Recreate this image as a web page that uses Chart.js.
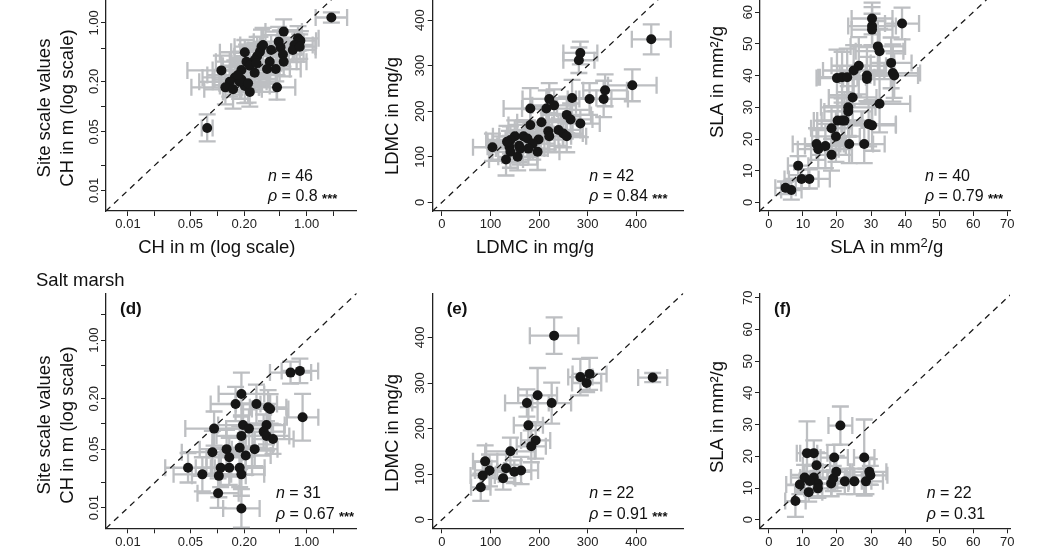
<!DOCTYPE html>
<html><head><meta charset="utf-8">
<script src="https://cdn.jsdelivr.net/npm/chart.js@4.4.0/dist/chart.umd.min.js"></script>
<style>
html,body{margin:0;padding:0;background:#fff;}
body{width:1046px;height:549px;overflow:hidden;position:relative;}
canvas{position:absolute;left:0;top:-40px;}
</style></head><body>
<script>
// ---------- DATA ----------
// Panel (a) CH, dry site (log scale)  x = site-scale value, y = plot value; errors are multiplicative factors
const A_X  = [1.89,0.553,0.80,0.85,0.73,0.70,0.486,0.51,0.312,0.40,0.203,0.30,0.279,0.262,0.543,0.386,0.553,0.212,0.231,0.111,0.186,0.262,0.36,0.451,0.157,0.186,0.138,0.123,0.15,0.203,0.231,0.466,0.178,0.221,0.325,0.077,0.17,0.274,0.836];
const A_Y  = [1.16,0.787,0.655,0.614,0.545,0.475,0.597,0.51,0.52,0.475,0.446,0.453,0.40,0.36,0.42,0.344,0.344,0.344,0.308,0.271,0.274,0.254,0.281,0.281,0.223,0.211,0.198,0.17,0.161,0.176,0.15,0.17,0.198,0.19,0.545,0.0557,0.238,0.329,0.52];
const A_XF = [1.5,1.6,1.7,1.5,1.6,1.8,1.9,1.7,2.0,1.8,1.9,2.1,1.8,1.9,1.7,2.0,1.8,2.2,2.0,2.4,2.1,1.9,1.8,1.9,2.3,2.0,2.2,2.4,2.1,1.9,2.0,1.6,2.0,2.1,1.8,1.15,2.2,1.9,1.5];
const A_YF = [1.15,1.4,1.4,1.3,1.5,1.4,1.5,1.6,1.6,1.5,1.4,1.5,1.7,1.6,1.4,1.6,1.5,1.6,1.7,1.5,1.6,1.6,1.5,1.4,1.6,1.7,1.5,1.6,1.7,1.6,1.5,1.4,1.6,1.7,1.6,1.45,1.6,1.5,1.4];

// Panel (b) LDMC (mg/g)
const B_X  = [431,285,282,392,336,333,304,268,221,231,215,182,257,265,285,205,182,219,221,240,250,257,168,176,199,187,178,197,150,141,139,159,141,156,132,104,134,161];
const B_Y  = [358,328,312,257,246,227,227,229,227,213,206,206,192,182,173,176,170,156,145,159,151,145,145,140,138,129,118,111,145,137,122,124,111,100,94,121,133,118];
const B_XE = [40,35,32,50,45,50,45,50,55,45,50,55,50,45,40,50,45,50,45,45,40,40,50,45,50,45,40,45,45,50,45,45,40,40,35,40,40,50];
const B_YE = [33,25,28,35,35,40,35,40,35,35,40,45,40,35,30,35,35,40,35,35,30,35,35,40,35,35,35,40,35,30,35,35,35,30,35,30,35,35];

// Panel (c) SLA (mm2/g)
const C_X  = [30.3,30.3,30.3,39.1,32,32.5,35.9,36.4,36.8,26.4,24.9,28.8,28.8,20,21.5,23,24.6,23.3,23.3,32.5,20.2,21.5,22.2,29.3,30.3,18.4,19.7,14,14.5,16.6,18.4,23.6,28,8.6,9.6,11.9,4.9,6.6];
const C_Y  = [58,55.6,54.5,56.4,49.2,47.7,44,40.8,40,43.1,41.6,40,38.9,39.2,39.5,39.5,33.1,30,28.7,31.1,25.8,25.8,25.8,24.7,24.3,23.4,20.8,18.4,16.8,17.8,15,18.4,18.4,11.6,7.4,7.4,4.6,3.9];
const C_XE = [6,7,6,5,8,7,6,8,7,8,9,8,7,6,7,8,7,8,7,9,7,6,8,8,7,6,7,7,6,6,6,7,6,3,5,6,3,3];
const C_YE = [5,6,5,5,8,7,8,9,7,9,8,9,7,9,8,9,8,9,8,9,8,7,9,7,8,7,8,5,6,7,5,6,6,3,3,3,2,3];

// Panel (d) CH, salt marsh (log scale)
const D_X  = [0.66,0.84,0.90,0.186,0.16,0.274,0.37,0.39,0.092,0.194,0.226,0.355,0.33,0.355,0.42,0.186,0.262,0.178,0.208,0.127,0.136,0.088,0.047,0.068,0.104,0.109,0.136,0.178,0.186,0.102,0.186];
const D_Y  = [0.41,0.43,0.12,0.228,0.173,0.173,0.158,0.151,0.088,0.097,0.088,0.097,0.081,0.072,0.066,0.072,0.05,0.052,0.042,0.05,0.040,0.046,0.030,0.025,0.024,0.030,0.030,0.030,0.025,0.0149,0.0098];
const D_XF = [1.7,1.6,1.5,1.8,1.9,1.7,1.6,1.6,2.1,1.9,1.8,1.6,1.7,1.8,1.7,1.9,1.8,2.0,1.9,2.0,1.8,2.2,1.8,2.1,2.0,1.9,1.8,1.9,1.8,1.7,1.6];
const D_YF = [1.35,1.4,1.9,1.8,1.6,1.7,1.6,1.5,1.6,1.8,1.7,1.7,1.6,1.5,1.5,1.7,1.6,1.8,1.7,1.7,1.7,1.8,1.5,1.6,1.8,1.7,1.6,1.7,1.8,1.5,1.7];

// Panel (e) LDMC, salt marsh
const E_X  = [231,434,285,304,298,197,175,226,178,193,184,141,89,98,84,132,149,163,126,80];
const E_Y  = [404,312,313,320,300,273,256,256,207,174,161,150,128,108,97,113,105,108,91,71];
const E_XE = [50,30,25,35,30,40,45,40,30,30,30,50,25,30,25,30,35,35,25,20];
const E_YE = [40,10,40,35,20,60,30,45,40,40,35,30,35,35,30,30,25,30,25,30];

// Panel (f) SLA, salt marsh
const F_X  = [21,28,19.2,11.2,13.2,14,7.8,9.1,10.5,13.2,11.7,14.4,14.4,12,18.3,18.9,19.8,22.3,25.1,28.5,29.5,29.8];
const F_Y  = [29.7,19.6,19.6,21,21,17.2,5.9,11.1,13.3,13.3,8.7,11.4,9.9,12.2,11.4,13,15.1,12.1,12.1,12.1,15.1,14];
const F_XE = [3.5,3,4,3,4,4,3,4,4,4,4,5,4,3,5,4,4,5,5,5,5,5];
const F_YE = [6,12,4,10,4,4,5,3,4,4,3,4,3,3,4,4,5,4,4,4,4,3];

// Tick values and labels
const LOG_TICKS   = [0.01,0.02,0.05,0.1,0.2,0.5,1,2];
const LOG_LABELS  = ['0.01','','0.05','','0.20','','1.00',''];
const LDMC_TICKS  = [0,100,200,300,400];
const LDMC_LABELS = ['0','100','200','300','400'];
const SLA_TICKS   = [0,10,20,30,40,50,60,70];
const SLA_LABELS  = ['0','10','20','30','40','50','60','70'];

const N_VALUES   = [46,42,40,31,22,22];
const RHO_VALUES = ['0.8','0.84','0.79','0.67','0.91','0.31'];
const RHO_STARS  = [true,true,true,true,true,false];
const PANEL_TAGS = ['(a)','(b)','(c)','(d)','(e)','(f)'];

// ---------- LAYOUT / STYLE ----------
const OFF = 40;                       // canvas is shifted up by OFF px
const CANVAS_H = 549 + OFF + 60;
const XAXIS_H = 30;
const ROW_TOP = [-24, 293.3], ROW_BOT = [211, 528.3];
const COL_L = [106, 432.7, 760], COL_R = [356.7, 683.3, 1010];
const FONT = '"Liberation Sans", Arial, Helvetica, sans-serif';
const INK = '#111';
const ERR_COL = '#bdbfc2';

const colSpec = [
  {type:'logarithmic', xmin:0.005675, xmax:3.63, ymin:0.005675, ymax:3.63, ticks:LOG_TICKS, labels:LOG_LABELS, factor:true,
   ytitle:['Site scale values','CH in m (log scale)'], ytx:[45,68.3], yty:[108,425], xtitle:'CH in m (log scale)', xtx:216.8, statX:[268,276]},
  {type:'linear', xmin:-19, xmax:497, ymin:-19, ymax:497, ticks:LDMC_TICKS, labels:LDMC_LABELS, factor:false,
   ytitle:['LDMC in mg/g'], ytx:[393], yty:[116,433], xtitle:'LDMC in mg/g', xtx:535, statX:[589.3,589.3]},
  {type:'linear', xmin:-2.6, xmax:70.8, ymin:-2.7, ymax:71.4, ticks:SLA_TICKS, labels:SLA_LABELS, factor:false,
   ytitle:['SLA in mm²/g'], ytx:[718], yty:[82,417], xtitle:'SLA', xtx:886.7, statX:[925,926.7]}
];

const panelData = [
  [A_X,A_Y,A_XF,A_YF],[B_X,B_Y,B_XE,B_YE],[C_X,C_Y,C_XE,C_YE],
  [D_X,D_Y,D_XF,D_YF],[E_X,E_Y,E_XE,E_YE],[F_X,F_Y,F_XE,F_YE]
];

function drawStat(ctx, x, cy, idx){
  ctx.fillStyle = INK; ctx.textAlign='left'; ctx.textBaseline='alphabetic';
  let b1 = cy - 36 + 5.8, b2 = cy - 15.5 + 5.8;
  ctx.font = 'italic 16px '+FONT; ctx.fillText('n', x, b1);
  let w = ctx.measureText('n').width;
  ctx.font = '16px '+FONT; ctx.fillText(' = '+N_VALUES[idx], x+w, b1);
  ctx.font = 'italic 16px '+FONT; ctx.fillText('ρ', x, b2);
  w = ctx.measureText('ρ').width;
  ctx.font = '16px '+FONT; const s = ' = '+RHO_VALUES[idx]; ctx.fillText(s, x+w, b2);
  const w2 = ctx.measureText(s+' ').width;
  if (RHO_STARS[idx]) { ctx.font = 'bold 13px '+FONT; ctx.fillText('***', x+w+w2, b2+2); }
}

function makePanel(idx){
  const row = Math.floor(idx/3), col = idx%3, spec = colSpec[col];
  const [xs, ys, xe, ye] = panelData[idx];
  const L = COL_L[col], R = COL_R[col], T = ROW_TOP[row], B = ROW_BOT[row];
  const cv = document.createElement('canvas');
  cv.width = 1046; cv.height = CANVAS_H;
  document.body.appendChild(cv);

  const errPlugin = {
    id:'errbars'+idx,
    beforeDatasetsDraw(chart){
      const ctx = chart.ctx, sx = chart.scales.x, sy = chart.scales.y, a = chart.chartArea;
      ctx.save();
      ctx.beginPath(); ctx.rect(a.left, a.top, a.right-a.left, a.bottom-a.top); ctx.clip();
      ctx.strokeStyle = ERR_COL; ctx.lineWidth = 2.3; ctx.lineCap='butt';
      const cap = 8.5;
      for (let i=0;i<xs.length;i++){
        const x = xs[i], y = ys[i];
        const xl = spec.factor ? x/xe[i] : x-xe[i], xh = spec.factor ? x*xe[i] : x+xe[i];
        const yl = spec.factor ? y/ye[i] : y-ye[i], yh = spec.factor ? y*ye[i] : y+ye[i];
        const px = sx.getPixelForValue(x), py = sy.getPixelForValue(y);
        const pxl = sx.getPixelForValue(xl), pxh = sx.getPixelForValue(xh);
        const pyl = sy.getPixelForValue(yl), pyh = sy.getPixelForValue(yh);
        ctx.beginPath();
        ctx.moveTo(pxl, py); ctx.lineTo(pxh, py);
        ctx.moveTo(pxl, py-cap); ctx.lineTo(pxl, py+cap);
        ctx.moveTo(pxh, py-cap); ctx.lineTo(pxh, py+cap);
        ctx.moveTo(px, pyl); ctx.lineTo(px, pyh);
        ctx.moveTo(px-cap, pyl); ctx.lineTo(px+cap, pyl);
        ctx.moveTo(px-cap, pyh); ctx.lineTo(px+cap, pyh);
        ctx.stroke();
      }
      ctx.restore();
    }
  };

  const textPlugin = {
    id:'texts'+idx,
    afterDraw(chart){
      const ctx = chart.ctx, sy = chart.scales.y;
      ctx.save();
      // rotated y tick labels
      ctx.fillStyle = '#222'; ctx.font = '13px '+FONT;
      spec.ticks.forEach((v,i)=>{
        const lab = spec.labels[i]; if (!lab) return;
        const py = sy.getPixelForValue(v);
        ctx.save(); ctx.translate(L-8.5, py); ctx.rotate(-Math.PI/2);
        ctx.textAlign='center'; ctx.textBaseline='alphabetic'; ctx.fillText(lab, 0, 0); ctx.restore();
      });
      // y titles
      ctx.fillStyle = INK; ctx.font = '18.5px '+FONT;
      spec.ytitle.forEach((t,k)=>{
        ctx.save(); ctx.translate(spec.ytx[k], spec.yty[row]+OFF); ctx.rotate(-Math.PI/2);
        ctx.textAlign='center'; ctx.textBaseline='middle'; ctx.fillText(t, 0, 0); ctx.restore();
      });
      // x title
      const ty = B + 37 + OFF;
      ctx.textBaseline='middle';
      if (spec.xtitle === 'SLA'){
        ctx.font = '18.5px '+FONT;
        const p1 = 'SLA in mm', p3 = '/g';
        const w1 = ctx.measureText(p1).width, w3 = ctx.measureText(p3).width;
        ctx.font = '13px '+FONT; const w2 = ctx.measureText('2').width;
        const x0 = spec.xtx - (w1+w2+w3)/2;
        ctx.textAlign='left';
        ctx.font = '18.5px '+FONT; ctx.fillText(p1, x0, ty);
        ctx.font = '13px '+FONT; ctx.fillText('2', x0+w1, ty-5);
        ctx.font = '18.5px '+FONT; ctx.fillText(p3, x0+w1+w2, ty);
      } else {
        ctx.textAlign='center'; ctx.font = '18.5px '+FONT; ctx.fillText(spec.xtitle, spec.xtx, ty);
      }
      // panel tag
      ctx.textAlign='left'; ctx.textBaseline='alphabetic';
      ctx.font = 'bold 17px '+FONT; ctx.fillText(PANEL_TAGS[idx], L+14, T+21 + OFF);
      // n / rho
      drawStat(ctx, spec.statX[row], B + OFF, idx);
      // section title
      if (idx === 3){ ctx.font = '18.5px '+FONT; ctx.fillText('Salt marsh', 36, 286 + OFF); }
      ctx.restore();
    }
  };

  const lo = Math.min(spec.xmin, spec.ymin), hi = Math.max(spec.xmax, spec.ymax);
  const axisCommon = (min, max) => ({
    type: spec.type, min, max, bounds:'data',
    grid:{drawOnChartArea:false, drawTicks:true, tickLength:5, color:'#222', lineWidth:1},
    border:{display:true, color:'#222', width:1.3}
  });
  const xAxis = Object.assign(axisCommon(spec.xmin, spec.xmax), {
    position:'bottom',
    afterFit: s => { s.height = XAXIS_H; },
    afterBuildTicks: s => { s.ticks = spec.ticks.map(v => ({value:v})); },
    ticks:{ callback:(v,i)=>spec.labels[i], font:{size:13, family:FONT}, color:'#222', padding:1, maxRotation:0, minRotation:0, autoSkip:false }
  });
  const yAxis = Object.assign(axisCommon(spec.ymin, spec.ymax), {
    position:'left',
    afterFit: s => { s.width = 0; },
    afterBuildTicks: s => { s.ticks = spec.ticks.map(v => ({value:v})); },
    ticks:{ display:false }
  });

  new Chart(cv, {
    type:'scatter',
    data:{ datasets:[
      { data: xs.map((x,i)=>({x, y:ys[i]})), pointRadius:5, pointHoverRadius:5,
        pointBackgroundColor:'#161616', pointBorderWidth:0, showLine:false },
      { type:'line', data:[{x:lo, y:lo},{x:hi, y:hi}], borderColor:'#1a1a1a', borderWidth:1.3,
        borderDash:[6,5], pointRadius:0, fill:false, tension:0 }
    ]},
    options:{
      responsive:false, animation:false, devicePixelRatio:1,
      layout:{ padding:{ left:L, right:1046-R, top:T+OFF, bottom:CANVAS_H-(B+OFF)-XAXIS_H } },
      plugins:{ legend:{display:false}, tooltip:{enabled:false} },
      scales:{ x:xAxis, y:yAxis }
    },
    plugins:[errPlugin, textPlugin]
  });
}

Chart.defaults.font.family = FONT;
for (let i=0;i<6;i++) makePanel(i);
</script>
</body></html>
